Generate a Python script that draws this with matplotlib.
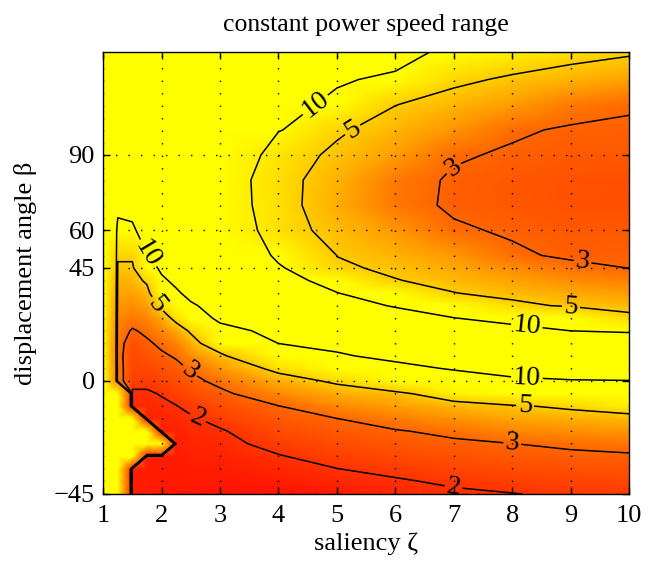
import numpy as np
import matplotlib
matplotlib.use("Agg")
import matplotlib.pyplot as plt

plt.rcParams['font.family'] = ['Liberation Serif', 'DejaVu Serif']

# CPSR on a (saliency x displacement angle) grid.
# INF marks the region where the speed range is unbounded (yellow).
INF = 60

saliency = [1.0, 1.25, 1.5, 1.75, 2.0, 2.25, 2.5, 3, 4, 5, 6, 7, 8, 9, 10]
beta = [-45, -40, -35, -30, -25, -20, -15, -10, -5, 0, 5, 10, 15, 20, 25,
        30, 35, 40, 45, 50, 60, 70, 80, 90, 100, 110, 120, 131]

# one list per saliency column, values along beta
z1_00 = [INF, INF, INF, INF, INF, INF, INF, INF, INF, INF, INF, INF, INF, INF,
         INF, INF, INF, INF, INF, INF, INF, INF, INF, INF, INF, INF, INF, INF]
z1_25 = [INF, INF, INF, INF, INF, INF, INF, INF, INF, 3.5, 3.4, 3.3, 3.35, 3.5,
         3.7, 3.95, 4.2, 4.5, 4.85, 5.15, 6.0, 14, INF, INF, INF, INF, INF, INF]
z1_50 = [1.6, 1.6, 1.65, INF, INF, INF, INF, 1.8, 1.9, 2.2, 2.35, 2.45, 2.55, 2.9,
         3.4, 3.8, 4.2, 4.55, 4.85, 5.15, 8.0, 14, INF, INF, INF, INF, INF, INF]
z1_75 = [1.55, 1.55, 1.58, 1.6, INF, INF, 1.7, 1.8, 1.9, 2.2, 2.4, 2.6, 2.85, 3.2,
         3.6, 4.1, 4.6, 5.2, 6.5, 9.5, 16, 25, 40, 40, 40, 40, 40, 40]
z2_00 = [1.5, 1.52, 1.55, 1.6, INF, 1.65, 1.75, 1.85, 2.05, 2.35, 2.6, 2.85, 3.2, 3.65,
         4.3, 5.3, 6.7, 8.8, 11.3, 14, 20, 25, 30, 30, 30, 30, 30, 30]
z2_25 = [1.45, 1.48, 1.52, 1.56, 1.6, 1.67, 1.78, 1.98, 2.25, 2.5, 2.75, 3.1, 3.55, 4.3,
         5.4, 7.0, 9.0, 11.5, 14, 16, 20, 25, 28, 28, 28, 28, 28, 28]
z2_50 = [1.45, 1.5, 1.57, 1.65, 1.73, 1.82, 1.92, 2.17, 2.47, 2.76, 3.1, 3.76, 4.41, 5.19,
         7.1, 9.04, 12, 15, 17, 18, 20, 22, 25, 25, 25, 25, 25, 25]
z3 = [1.4, 1.48, 1.58, 1.7, 1.81, 1.93, 2.21, 2.51, 2.8, 3.24, 3.94, 4.65, 6.14, 8.41,
      11, 13, 15, 16, 16.5, 16.7, 18.2, 15.6, 15.2, 20.5, 22, 25, 25, 25]
z4 = [1.4, 1.55, 1.76, 1.96, 2.21, 2.47, 2.73, 2.98, 3.68, 4.4, 5.37, 7.71, 10.03, 11.35,
      12.7, 14, 12.8, 11.65, 10.6, 9.0, 5.4, 5.41, 5.36, 5.5, 10.4, 13.4, 15, 16]
z5 = [1.5, 1.75, 1.99, 2.25, 2.5, 2.74, 2.99, 3.67, 4.37, 5.22, 7.41, 9.61, 10.9, 12.05,
      11.9, 11.0, 10.1, 8.45, 5.19, 4.98, 4.7, 4.39, 4.51, 4.8, 5.15, 8.0, 11.0, 13.9]
z6 = [1.75, 1.92, 2.18, 2.43, 2.68, 2.93, 3.46, 4.1, 4.73, 6.46, 8.99, 10.9, 12.4, 12.3,
      11.1, 9.82, 7.59, 5.05, 4.78, 4.51, 3.97, 3.35, 3.4, 4.07, 4.54, 5.02, 8.25, 14]
z7 = [1.88, 2.11, 2.35, 2.59, 2.84, 3.21, 3.88, 4.55, 5.73, 8.03, 10.3, 12.35, 13.65, 11.9,
      10.1, 7.65, 5.03, 4.67, 4.32, 3.97, 3.12, 2.86, 2.88, 3.1, 3.9, 4.56, 5.22, 7.2]
z8 = [1.98, 2.23, 2.48, 2.74, 2.99, 3.61, 4.24, 4.87, 6.89, 9.25, 11.6, 14.0, 13.6, 11.3,
      8.73, 5.3, 4.65, 4.2, 3.74, 3.15, 2.89, 2.73, 2.73, 2.89, 3.12, 4.05, 4.84, 5.71]
z9 = [2.1, 2.34, 2.58, 2.82, 3.16, 3.8, 4.43, 5.22, 7.46, 9.69, 12.8, 16, 13, 9.98,
      7.06, 4.84, 4.32, 3.79, 3.26, 2.85, 2.72, 2.6, 2.6, 2.75, 2.9, 3.4, 4.48, 5.43]
z10 = [2.15, 2.39, 2.64, 2.88, 3.33, 3.95, 4.58, 5.67, 7.77, 9.87, 12.9, 16, 12.8, 9.53,
       5.3, 4.64, 4.08, 3.53, 2.99, 2.91, 2.75, 2.58, 2.58, 2.74, 2.89, 3.08, 4.18, 5.15]

levels = [2, 3, 5, 10]
xticks = [1, 2, 3, 4, 5, 6, 7, 8, 9, 10]
yticks = [-45, 0, 45, 60, 90]

cpsr = np.column_stack([z1_00, z1_25, z1_50, z1_75, z2_00, z2_25, z2_50,
                        z3, z4, z5, z6, z7, z8, z9, z10])

fig = plt.figure(figsize=(6.57, 5.63), dpi=100)
ax = fig.add_axes([0.157, 0.1226, 0.8006, 0.785])

ax.pcolormesh(saliency, beta, cpsr, shading='gouraud', cmap='autumn',
              vmin=1, vmax=6, rasterized=True)
cs = ax.contour(saliency, beta, cpsr, levels=levels, colors='k', linewidths=1.1)

# where the labels sit on the lines
label_pos = [(4.63, 110), (5.26, 100.3), (7.0, 84.8), (9.2, 47.1),
             (1.75, 50.6), (1.89, 30), (2.49, 4.2), (2.6, -15.6),
             (9.0, 28.5), (8.25, 22.1), (8.25, 1.1), (8.22, -9.7),
             (8.0, -24.8), (7.0, -41.5)]
ax.clabel(cs, fmt='%d', fontsize=20, inline=True, inline_spacing=2,
          manual=label_pos)

ax.set_xlim(1, 10)
ax.set_ylim(-45, 131)
ax.set_xticks(xticks)
ax.set_yticks(yticks)
ax.set_axisbelow(False)
ax.grid(True, color='k', linestyle=(0, (1, 8)), linewidth=1.0)
ax.tick_params(direction='in', top=True, right=True, length=5, width=1,
               labelsize=19)
ax.tick_params(axis='x', pad=8)
ax.tick_params(axis='y', pad=6)
for s in ax.spines.values():
    s.set_linewidth(1.0)

ax.set_title('constant power speed range', fontsize=18.5, pad=15)
ax.set_xlabel('saliency ζ', fontsize=19)
ax.set_ylabel('displacement angle β', fontsize=19)
ax.xaxis.set_label_coords(0.5, -0.088)
ax.yaxis.set_label_coords(-0.125, 0.5)

fig.savefig('out.png', dpi=100)
